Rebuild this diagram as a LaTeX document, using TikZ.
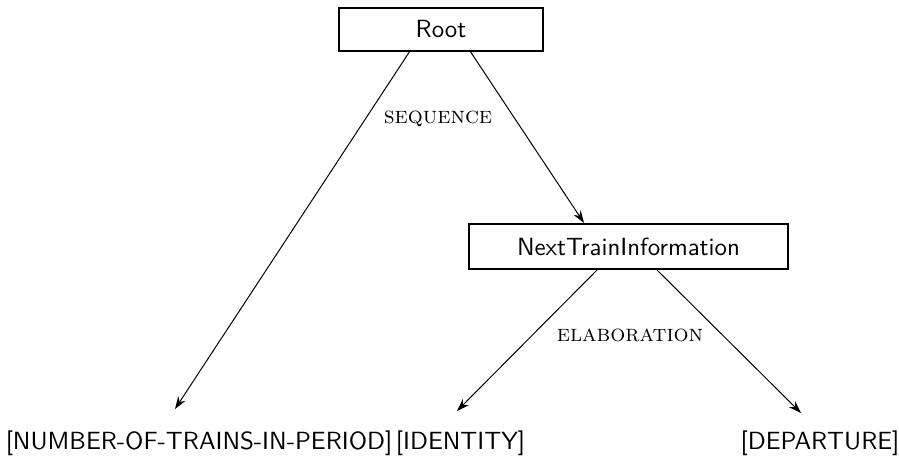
\documentclass[tikz,border=0pt]{standalone}
\usetikzlibrary{arrows.meta}
\tikzset{
  treebox/.style={draw, line width=0.85pt, minimum width=82pt, minimum height=17.3pt, inner sep=0pt, font=\sffamily},
  leaf/.style={inner sep=0pt, font=\sffamily},
  rel/.style={font=\scshape\fontsize{9.5}{11}\selectfont},
  link/.style={-{Stealth[length=5pt,width=3.4pt]}, line width=0.4pt}
}
\begin{document}
\begin{tikzpicture}[x=0.402pt, y=-0.402pt] % arbol de relaciones
        \useasboundingbox (0,0) rectangle (899,467);

        \node[treebox] (root) at (441,29.5) {Root};
        \node[treebox, minimum width=128pt, minimum height=18.1pt] (nti) at (628.5,246.5) {NextTrainInformation};

        \node[leaf] (number) at (199,443) {[NUMBER-OF-TRAINS-IN-PERIOD]};
        \node[leaf] (identity) at (460.5,443) {[IDENTITY]};
        \node[leaf] (departure) at (820,443) {[DEPARTURE]};

        \coordinate (r1) at (410,51);
        \coordinate (r2) at (470,51);
        \coordinate (n1) at (598,269);
        \coordinate (n2) at (656,269);
        \coordinate (e1) at (175,409);
        \coordinate (e2) at (457,411);
        \coordinate (e3) at (801,413);

        \draw[link] (r1) -- (e1);
        \draw[link] (r2) -- (nti.north west -| 584,0);
        \draw[link] (n1) -- (e2);
        \draw[link] (n2) -- (e3);

        \node[rel] (seq) at (438,119) {sequence};
        \node[rel] (elab) at (630,335) {elaboration};
    \end{tikzpicture}
\end{document}
